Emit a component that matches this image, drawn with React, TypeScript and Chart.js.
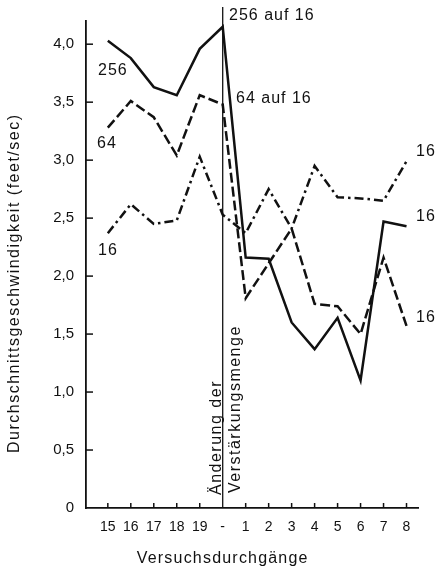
import React, { useEffect, useRef } from 'react';
import { Chart, registerables } from 'chart.js';

Chart.register(...registerables);

const LABELS = ['15', '16', '17', '18', '19', '-', '1', '2', '3', '4', '5', '6', '7', '8'];
const SERIES_256 = [4.03, 3.88, 3.63, 3.56, 3.96, 4.15, 2.16, 2.15, 1.6, 1.37, 1.64, 1.1, 2.47, 2.43];
const SERIES_64 = [3.28, 3.51, 3.37, 3.04, 3.56, 3.48, 1.81, 2.11, 2.41, 1.76, 1.74, 1.5, 2.16, 1.57];
const SERIES_16 = [2.37, 2.62, 2.45, 2.48, 3.03, 2.53, 2.37, 2.75, 2.41, 2.95, 2.68, 2.67, 2.65, 2.99];
const Y_TICKS = [0, 0.5, 1, 1.5, 2, 2.5, 3, 3.5, 4];

const Y_TITLE = 'Durchschnittsgeschwindigkeit (feet/sec)';
const X_TITLE = 'Versuchsdurchgänge';
const CHANGE_LINE_1 = 'Änderung der';
const CHANGE_LINE_2 = 'Verstärkungsmenge';

const FONT = '"Liberation Sans", Arial, Helvetica, sans-serif';
const INK = '#111';

const LABEL_NOTES = [
  { text: '256', x: 98, y: 71 },
  { text: '64', x: 97, y: 144 },
  { text: '16', x: 98, y: 251 },
  { text: '256 auf 16', x: 229, y: 16 },
  { text: '64 auf 16', x: 236, y: 99 },
  { text: '16', x: 416, y: 152 },
  { text: '16', x: 416, y: 217 },
  { text: '16', x: 416, y: 318 },
];

export default function App() {
  const ref = useRef<HTMLCanvasElement>(null);

  useEffect(() => {
    const canvas = ref.current;
    if (!canvas) return;
    const toPts = (arr: number[]) => arr.map((y, i) => ({ x: i, y }));

    const annot = {
      id: 'annot',
      afterDraw(chart: any) {
        const { ctx, chartArea, scales } = chart;
        const xs = scales.x;
        const ys = scales.y;
        const line = (x1: number, y1: number, x2: number, y2: number) => {
          ctx.beginPath();
          ctx.moveTo(x1, y1);
          ctx.lineTo(x2, y2);
          ctx.stroke();
        };
        ctx.save();
        ctx.strokeStyle = INK;
        ctx.lineWidth = 1.5;
        Y_TICKS.forEach((v) => {
          if (v === 0) return;
          const py = ys.getPixelForValue(v);
          line(chartArea.left, py, chartArea.left + 7, py);
        });
        LABELS.forEach((l, i) => {
          if (l === '-') return;
          const px = xs.getPixelForValue(i);
          line(px, chartArea.bottom, px, chartArea.bottom - 5);
        });
        const vx = xs.getPixelForValue(LABELS.indexOf('-'));
        ctx.lineWidth = 1.3;
        line(vx, 7, vx, chartArea.bottom);

        ctx.fillStyle = INK;
        ctx.font = `16px ${FONT}`;
        (ctx as any).letterSpacing = '1px';
        ctx.textAlign = 'left';
        ctx.textBaseline = 'middle';
        LABEL_NOTES.forEach((n) => ctx.fillText(n.text, n.x, n.y));

        ctx.textBaseline = 'alphabetic';
        (ctx as any).letterSpacing = '1.5px';
        const vText = (t: string, x: number, y: number) => {
          ctx.save();
          ctx.translate(x, y);
          ctx.rotate(-Math.PI / 2);
          ctx.fillText(t, 0, 0);
          ctx.restore();
        };
        vText(Y_TITLE, 19, 453);
        vText(CHANGE_LINE_1, vx - 2, 495);
        vText(CHANGE_LINE_2, vx + 17, 493);

        (ctx as any).letterSpacing = '1.2px';
        ctx.textAlign = 'center';
        ctx.fillText(X_TITLE, vx, 563);
        ctx.restore();
      },
    };

    const base = {
      borderColor: INK,
      borderWidth: 2.5,
      pointRadius: 0,
      tension: 0,
      fill: false,
      borderCapStyle: 'butt' as const,
      borderJoinStyle: 'miter' as const,
    };

    const chart = new Chart(canvas, {
      type: 'line',
      data: {
        datasets: [
          { ...base, label: '256', data: toPts(SERIES_256) },
          { ...base, label: '64', data: toPts(SERIES_64), borderDash: [10, 4] },
          { ...base, label: '16', data: toPts(SERIES_16), borderDash: [9, 4, 2.5, 4] },
        ],
      },
      options: {
        responsive: false,
        animation: false,
        devicePixelRatio: 1,
        layout: { padding: { top: 19, right: 18, left: 0, bottom: 0 } },
        plugins: { legend: { display: false }, tooltip: { enabled: false } },
        scales: {
          x: {
            type: 'linear',
            min: -0.95,
            max: 13.5,
            afterBuildTicks: (s: any) => {
              s.ticks = LABELS.map((_, i) => ({ value: i }));
            },
            afterFit: (s: any) => {
              s.height = 67;
            },
            ticks: {
              callback: (v: any) => LABELS[v as number] ?? '',
              autoSkip: false,
              maxRotation: 0,
              padding: 11,
              color: INK,
              font: { family: FONT, size: 14 },
            },
            grid: { display: false, drawTicks: false },
            border: { display: true, color: INK, width: 1.8 },
          },
          y: {
            min: 0,
            max: 4.2,
            afterBuildTicks: (s: any) => {
              s.ticks = Y_TICKS.map((v) => ({ value: v }));
            },
            afterFit: (s: any) => {
              s.width = 86;
            },
            ticks: {
              callback: (v: any) => (v === 0 ? '0' : Number(v).toFixed(1).replace('.', ',')),
              padding: 12,
              color: INK,
              font: { family: FONT, size: 15 },
            },
            grid: { display: false, drawTicks: false },
            border: { display: true, color: INK, width: 1.8 },
          },
        },
      },
      plugins: [annot],
    } as any);

    return () => chart.destroy();
  }, []);

  return (
    <div style={{ position: 'fixed', left: 0, top: 0, width: 436, height: 575, background: '#fff' }}>
      <canvas ref={ref} width={436} height={575} style={{ width: 436, height: 575, display: 'block' }} />
    </div>
  );
}
